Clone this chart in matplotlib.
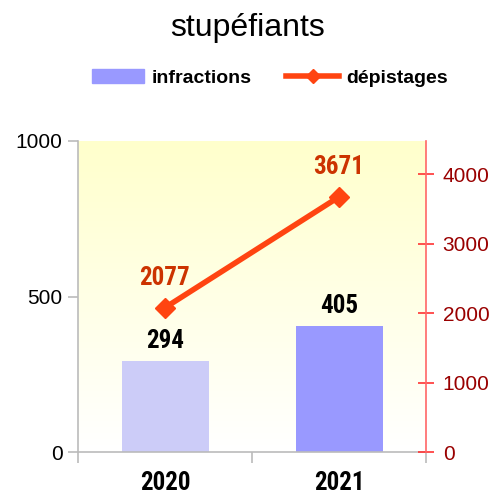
import matplotlib.pyplot as plt
import numpy as np
from matplotlib.patches import Patch
from matplotlib.lines import Line2D

plt.rcParams['font.family'] = ['Liberation Sans', 'DejaVu Sans']
NARROW = ['Roboto Condensed', 'Liberation Sans', 'DejaVu Sans']

years = ["2020", "2021"]
infractions = [294, 405]
depistages = [2077, 3671]
bar_colors = ["#ccccf8", "#9999ff"]

fig = plt.figure(figsize=(4.95, 4.97), dpi=100)
ax = fig.add_axes([78 / 495, 45 / 497, 348 / 495, 311 / 497])
ax2 = ax.twinx()

x = np.arange(len(years))

# background gradient, yellow at top fading to white
grad = np.linspace(0, 1, 256).reshape(-1, 1)
top = np.array([1.0, 1.0, 0.8])
bot = np.array([1.0, 1.0, 1.0])
img = bot + (top - bot) * grad[..., None]
ax.imshow(img, aspect="auto", extent=[-0.5, 1.5, 0, 1000], origin="lower", zorder=0)

ax.bar(x, infractions, width=0.5, color=bar_colors, zorder=2)
for xi, v in zip(x, infractions):
    ax.text(xi, v + 42, str(v), ha="center", va="baseline", fontsize=18,
            fontweight="bold", color="black", family=NARROW)

ax.set_xlim(-0.5, 1.5)
ax.set_ylim(0, 1000)
ax.set_yticks([0, 500, 1000])
ax.set_xticks(x)
ax.set_xticklabels(years, fontsize=18, fontweight="bold", family=NARROW)
ax.set_xticks([-0.5, 0.5, 1.5], minor=True)
ax.tick_params(axis="x", which="major", length=0, pad=14)
ax.tick_params(axis="x", which="minor", length=8, color="#bbbbbb", width=1.2)
ax.tick_params(axis="y", labelsize=15, length=7, color="#bbbbbb", width=1.2, pad=4)
for s in ["top", "right"]:
    ax.spines[s].set_visible(False)
ax.spines["left"].set_color("#bbbbbb")
ax.spines["bottom"].set_color("#bbbbbb")
ax.spines["left"].set_linewidth(1.2)
ax.spines["bottom"].set_linewidth(1.2)

ax2.plot(x, depistages, color="#ff4411", lw=4, marker="D", markersize=10, zorder=3)
for xi, v in zip(x, depistages):
    ax2.text(xi, v + 330, str(v), ha="center", va="baseline", fontsize=18,
             fontweight="bold", color="#cc3300", family=NARROW)
ax2.set_ylim(0, 4475)
ax2.set_yticks([0, 1000, 2000, 3000, 4000])
ax2.tick_params(axis="y", labelsize=15, labelcolor="#990000", color="#ff3333",
                length=12, direction="inout", width=1.2, pad=6)
for s in ["top", "left", "bottom"]:
    ax2.spines[s].set_visible(False)
ax2.spines["right"].set_color("#ff6666")
ax2.spines["right"].set_linewidth(1.2)
ax.set_zorder(0)
ax2.set_zorder(1)

# legend
handles = [Patch(color="#9999ff"),
           Line2D([0], [0], color="#ff4411", lw=4, marker="D", markersize=7)]
fig.legend(handles, ["infractions", "dépistages"], loc="center",
           bbox_to_anchor=(0.545, 0.843), ncol=2, frameon=False,
           prop={"weight": "bold", "size": 14}, handlelength=2.7,
           columnspacing=1.8, handletextpad=0.36)

fig.suptitle("stupéfiants", fontsize=23, y=0.944, va="center")

fig.savefig("out.png", dpi=100)
